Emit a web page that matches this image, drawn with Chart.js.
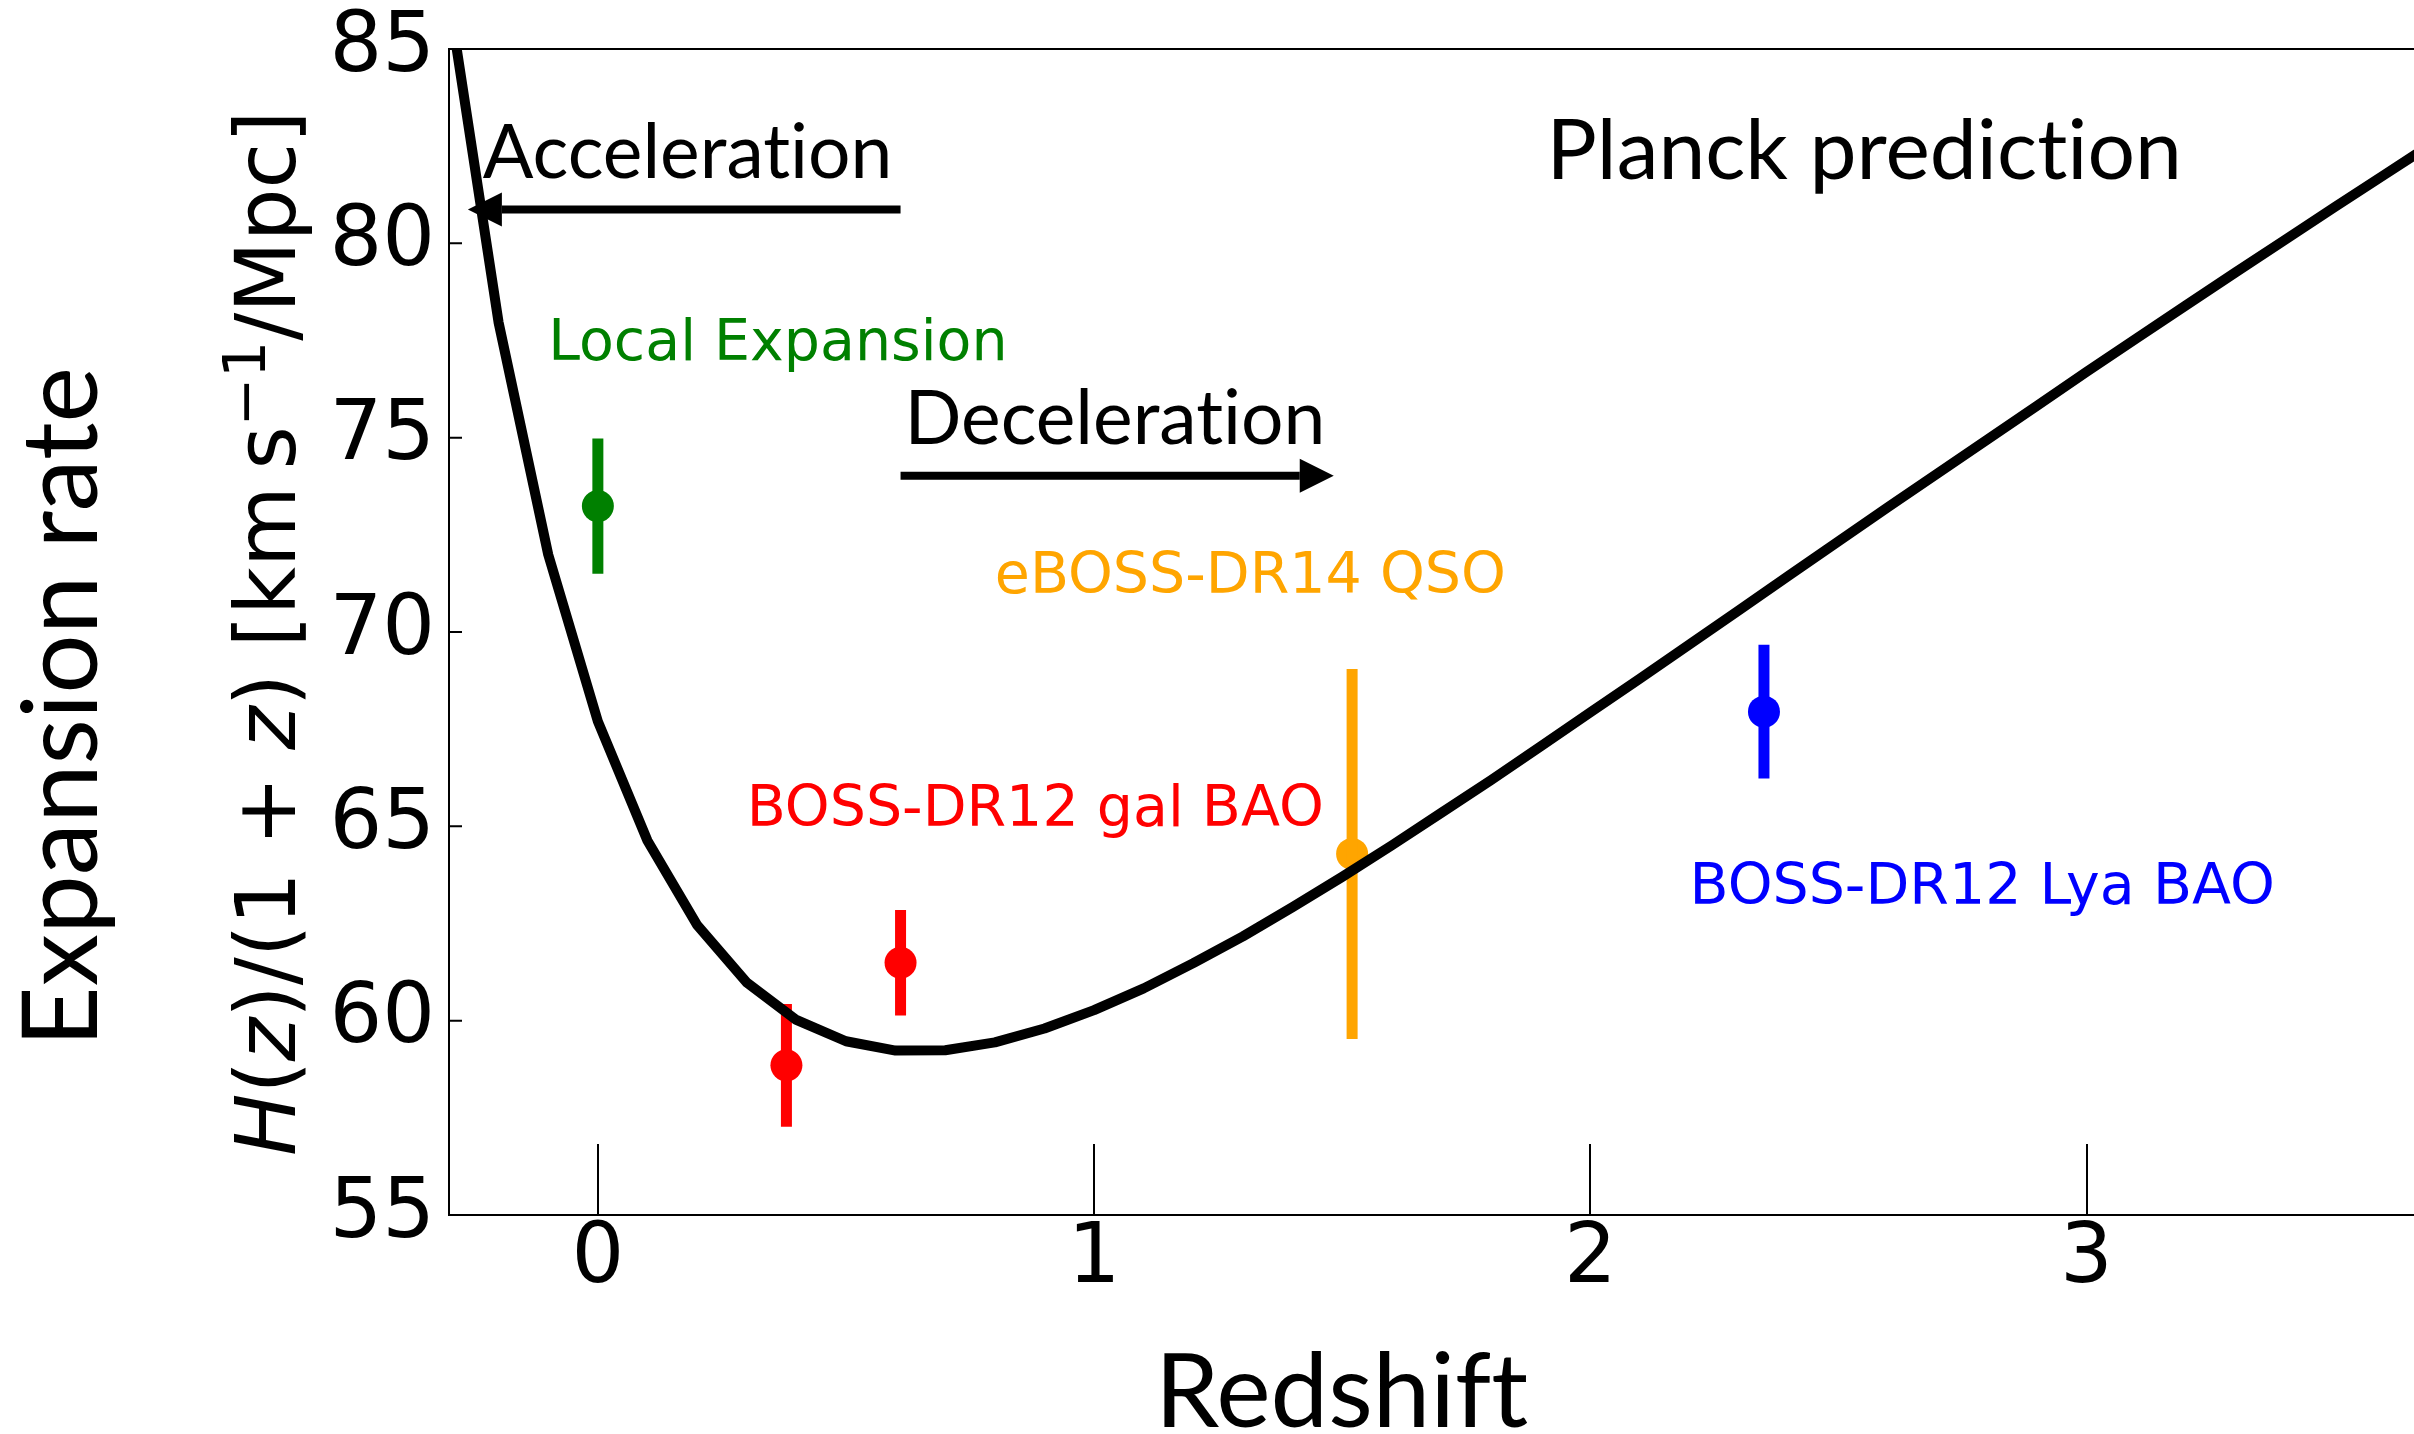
<!DOCTYPE html>
<html>
<head>
<meta charset="utf-8">
<title>Expansion rate vs redshift</title>
<script src="https://cdn.jsdelivr.net/npm/chart.js@4.4.1/dist/chart.umd.min.js"></script>
<style>
  html, body { margin: 0; padding: 0; background: #ffffff; overflow: hidden; }
  canvas { display: block; }
</style>
</head>
<body>
<canvas id="chart" width="2414" height="1434"></canvas>
<script>
// Planck LCDM prediction of H(z)/(1+z), tabulated every 0.1 in redshift
const modelZ = [-0.3, -0.2, -0.1, 0.0, 0.1, 0.2, 0.3, 0.4, 0.5, 0.6, 0.7, 0.8, 0.9,
                1.0, 1.1, 1.2, 1.3, 1.4, 1.5, 1.6, 1.7, 1.8, 1.9, 2.0, 2.1, 2.2, 2.3,
                2.4, 2.5, 2.6, 2.7, 2.8, 2.9, 3.0, 3.1, 3.2, 3.3, 3.4, 3.5, 3.6, 3.7];
const modelH = [86.30, 77.96, 71.99, 67.70, 64.63, 62.46, 60.98, 60.02, 59.47, 59.23, 59.24, 59.44, 59.80,
                60.27, 60.83, 61.48, 62.17, 62.92, 63.70, 64.51, 65.35, 66.19, 67.06, 67.93, 68.80, 69.68, 70.56,
                71.45, 72.33, 73.21, 74.08, 74.95, 75.82, 76.69, 77.55, 78.40, 79.25, 80.09, 80.93, 81.76, 82.59];

// Measurements: redshift, H(z)/(1+z) and 1-sigma error, grouped by survey
const surveys = ['Local Expansion', 'BOSS-DR12 gal BAO', 'eBOSS-DR14 QSO', 'BOSS-DR12 Lya BAO'];
const localZ = [0.0];   const localH = [73.24]; const localErr = [1.74];
const galZ   = [0.38, 0.61]; const galH = [58.85, 61.49]; const galErr = [1.58, 1.36];
const qsoZ   = [1.52];  const qsoH = [64.29];   const qsoErr = [4.76];
const lyaZ   = [2.35];  const lyaH = [67.95];   const lyaErr = [1.72];

// Axis ticks
const xTicks = [0, 1, 2, 3];
const yTicks = [55, 60, 65, 70, 75, 80, 85];

// ---- styling ----
const surveyColors = ['#008000', '#ff0000', '#ffa500', '#0000ff'];
const TICK_FONT = 'DejaVu Sans';
const TITLE_FONT = 'Lato, "Open Sans", sans-serif';

const groups = [
  { z: localZ, h: localH, e: localErr },
  { z: galZ,   h: galH,   e: galErr },
  { z: qsoZ,   h: qsoH,   e: qsoErr },
  { z: lyaZ,   h: lyaH,   e: lyaErr }
];

const datasets = [];
// theory curve first so it is painted on top
datasets.push({
  label: 'Planck prediction',
  data: modelZ.map((z, i) => ({ x: z, y: modelH[i] })),
  showLine: true,
  borderColor: '#000000',
  borderWidth: 10,
  pointRadius: 0,
  tension: 0,
  borderJoinStyle: 'round',
  clip: 0
});
groups.forEach((g, gi) => {
  const col = surveyColors[gi];
  g.z.forEach((z, i) => {
    // vertical error bar
    datasets.push({
      label: surveys[gi] + ' error',
      data: [{ x: z, y: g.h[i] - g.e[i] }, { x: z, y: g.h[i] + g.e[i] }],
      showLine: true,
      borderColor: col,
      borderWidth: 11,
      borderCapStyle: 'butt',
      pointRadius: 0,
      clip: false
    });
  });
  // central values
  datasets.push({
    label: surveys[gi],
    data: g.z.map((z, i) => ({ x: z, y: g.h[i] })),
    showLine: false,
    pointRadius: 16,
    pointBackgroundColor: col,
    pointBorderColor: col,
    pointBorderWidth: 0,
    clip: false
  });
});

// text annotations anchored in data coordinates (left edge, baseline)
const notes = [
  { text: surveys[0], x: -0.10, y: 77.0, color: surveyColors[0], font: '57px "DejaVu Sans"' },
  { text: surveys[1], x: 0.30,  y: 65.0, color: surveyColors[1], font: '57px "DejaVu Sans"' },
  { text: surveys[2], x: 0.80,  y: 71.0, color: surveyColors[2], font: '57px "DejaVu Sans"' },
  { text: surveys[3], x: 2.20,  y: 63.0, color: surveyColors[3], font: '57px "DejaVu Sans"' },
  { text: 'Acceleration', x: -0.232, y: 81.69, color: '#000', font: '75px ' + TITLE_FONT },
  { text: 'Deceleration', x: 0.618, y: 74.84, color: '#000', font: '75px ' + TITLE_FONT },
  { text: 'Planck prediction', x: 1.912, y: 81.66, color: '#000', font: '84px ' + TITLE_FONT }
];
const arrows = [
  { from: 0.61, to: -0.262, y: 80.87 },
  { from: 0.61, to: 1.483,  y: 74.02 }
];

const decor = {
  id: 'decor',
  afterLayout(chart) {
    // the plot frame runs to the right edge of the canvas
    const W = chart.width;
    const area = chart.chartArea;
    area.right = W;
    area.width = W - area.left;
    const xs = chart.scales.x;
    xs.right = W;
    xs.width = W - xs.left;
    xs.configure();
  },
  beforeDatasetsDraw(chart) {
    const { ctx, chartArea: a, scales: { x, y } } = chart;
    ctx.save();
    ctx.strokeStyle = '#000';
    ctx.lineWidth = 2;
    ctx.beginPath();
    // spines: left, bottom, top (right side runs off the page)
    ctx.moveTo(a.left, a.top); ctx.lineTo(a.left, a.bottom);
    ctx.moveTo(a.left - 1, a.bottom); ctx.lineTo(a.right, a.bottom);
    ctx.moveTo(a.left - 1, a.top); ctx.lineTo(a.right, a.top);
    // inward ticks
    xTicks.forEach(v => {
      const px = Math.round(x.getPixelForValue(v));
      ctx.moveTo(px, a.bottom); ctx.lineTo(px, a.bottom - 71);
    });
    yTicks.forEach(v => {
      const py = y.getPixelForValue(v);
      ctx.moveTo(a.left, py); ctx.lineTo(a.left + 13, py);
    });
    ctx.stroke();
    ctx.restore();
  },
  afterDraw(chart) {
    const { ctx, scales: { x, y } } = chart;
    ctx.save();
    ctx.textBaseline = 'alphabetic';
    ctx.textAlign = 'left';
    // plain glyphs, no ligatures
    if ('textRendering' in ctx) ctx.textRendering = 'optimizeSpeed';
    notes.forEach(n => {
      ctx.font = n.font;
      ctx.fillStyle = n.color;
      ctx.fillText(n.text, x.getPixelForValue(n.x), y.getPixelForValue(n.y));
    });

    // arrows
    ctx.fillStyle = '#000';
    arrows.forEach(ar => {
      const x0 = x.getPixelForValue(ar.from);
      const x1 = x.getPixelForValue(ar.to);
      const py = y.getPixelForValue(ar.y);
      const dir = Math.sign(x1 - x0);
      const headLen = 34, halfHead = 17, half = 4;
      const xb = x1 - dir * headLen;
      ctx.beginPath();
      ctx.rect(Math.min(x0, xb), py - half, Math.abs(xb - x0), half * 2);
      ctx.fill();
      ctx.beginPath();
      ctx.moveTo(x1, py);
      ctx.lineTo(xb, py - halfHead);
      ctx.lineTo(xb, py + halfHead);
      ctx.closePath();
      ctx.fill();
    });

    // x axis title
    ctx.fillStyle = '#000';
    ctx.font = '103px ' + TITLE_FONT;
    ctx.fillText('Redshift', 1155, 1427);

    // outer y title
    ctx.save();
    ctx.translate(97, 1047);
    ctx.rotate(-Math.PI / 2);
    ctx.font = '105px ' + TITLE_FONT;
    ctx.fillText('Expansion rate', 0, 0);
    ctx.restore();

    // inner y title with math styling
    const base = 83;
    const segs = [
      { t: 'H', f: 'italic ' + base + 'px "DejaVu Sans"' },
      { t: '(', f: base + 'px "DejaVu Sans"' },
      { t: 'z', f: 'italic ' + base + 'px "DejaVu Sans"' },
      { t: ')/(1', f: base + 'px "DejaVu Sans"' },
      { t: ' + ', f: base + 'px "DejaVu Sans"' },
      { t: 'z', f: 'italic ' + base + 'px "DejaVu Sans"' },
      { t: ') [km', f: base + 'px "DejaVu Sans"' },
      { t: '\u2009s', f: base + 'px "DejaVu Sans"' },
      { t: '\u22121', f: Math.round(base * 0.7) + 'px "DejaVu Sans"', dy: -30 },
      { t: '/Mpc]', f: base + 'px "DejaVu Sans"' }
    ];
    ctx.save();
    ctx.translate(295, 1156);
    ctx.rotate(-Math.PI / 2);
    let cx = 0;
    segs.forEach(s => {
      ctx.font = s.f;
      ctx.fillText(s.t, cx, s.dy || 0);
      cx += ctx.measureText(s.t).width;
    });
    ctx.restore();

    ctx.restore();
  }
};

new Chart(document.getElementById('chart'), {
  type: 'scatter',
  data: { datasets },
  options: {
    responsive: false,
    devicePixelRatio: 1,
    animation: false,
    events: [],
    layout: { padding: { top: 49, left: 0, right: 0, bottom: 0 } },
    plugins: { legend: { display: false }, tooltip: { enabled: false } },
    scales: {
      x: {
        type: 'linear',
        min: -0.3,
        max: 3.66,
        afterBuildTicks: s => { s.ticks = xTicks.map(v => ({ value: v })); },
        afterFit: s => { s.height = 219; s.paddingLeft = 0; s.paddingRight = 0; },
        grid: { display: false, drawTicks: false },
        border: { display: false },
        ticks: {
          color: '#000',
          padding: 4,
          maxRotation: 0,
          font: { family: TICK_FONT, size: 83, lineHeight: 1 },
          callback: v => String(v)
        }
      },
      y: {
        type: 'linear',
        min: 55,
        max: 85,
        afterBuildTicks: s => { s.ticks = yTicks.map(v => ({ value: v })); },
        afterFit: s => { s.width = 449; s.paddingTop = 0; s.paddingBottom = 0; },
        grid: { display: false, drawTicks: false },
        border: { display: false },
        ticks: {
          color: '#000',
          padding: 14,
          font: { family: TICK_FONT, size: 83, lineHeight: 1 },
          callback: v => String(v)
        }
      }
    }
  },
  plugins: [decor]
});
</script>
</body>
</html>
